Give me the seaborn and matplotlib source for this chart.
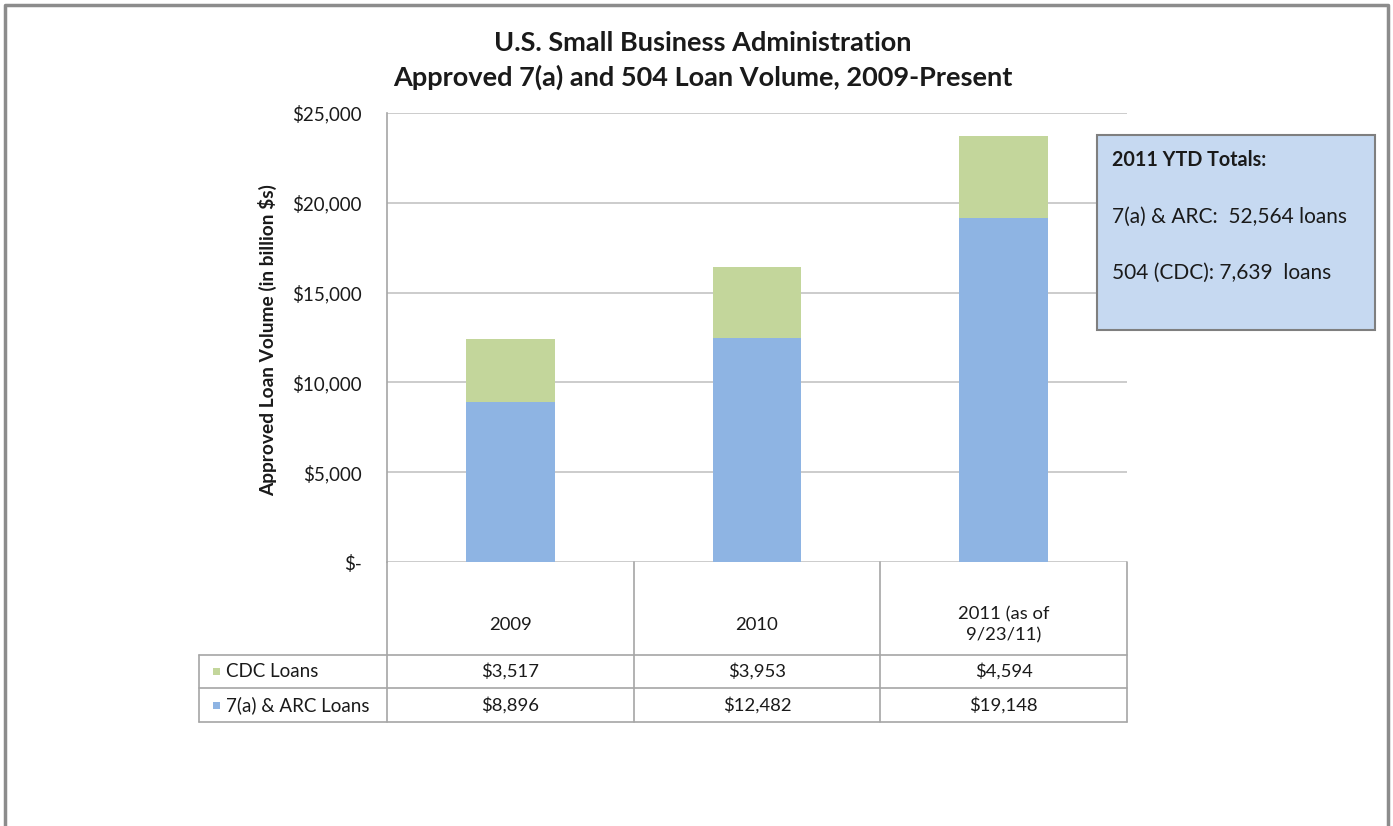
import matplotlib
matplotlib.use("Agg")
import matplotlib.pyplot as plt
import seaborn as sns
import pandas as pd
from matplotlib.transforms import blended_transform_factory
from matplotlib.patches import Rectangle
from matplotlib.lines import Line2D

# ---- data ----
years = ["2009", "2010", "2011 (as of\n9/23/11)"]
cdc_loans = [3517, 3953, 4594]
arc_loans = [8896, 12482, 19148]
series_names = ["CDC Loans", "7(a) & ARC Loans"]
y_ticks = [0, 5000, 10000, 15000, 20000, 25000]
y_tick_labels = ["$-", "$5,000", "$10,000", "$15,000", "$20,000", "$25,000"]
title_lines = ["U.S. Small Business Administration",
               "Approved 7(a) and 504 Loan Volume, 2009-Present"]
y_label = "Approved Loan Volume (in billion $s)"
box_lines = ["2011 YTD Totals:", "7(a) & ARC:  52,564 loans", "504 (CDC): 7,639  loans"]

sns.set_theme(style="white")
plt.rcParams['font.family'] = ['Lato', 'DejaVu Sans']

W, H = 1393, 826
fig = plt.figure(figsize=(W / 100, H / 100), dpi=100)


def fx(px):
    return px / W


def fy(py):
    return 1 - py / H


green = "#c3d69b"
blue = "#8eb4e3"
grid_c = "#c4c4c4"
line_c = "#a6a6a6"
txt_c = "#1a1a1a"

ax = fig.add_axes([fx(387), fy(562), fx(1127) - fx(387), fy(113) - fy(562)])

df = pd.DataFrame({"year": years, "cdc": cdc_loans, "arc": arc_loans})
df["total"] = df["cdc"] + df["arc"]
sns.barplot(data=df, x="year", y="total", color=green, width=0.36,
            saturation=1, linewidth=0, errorbar=None, ax=ax)
sns.barplot(data=df, x="year", y="arc", color=blue, width=0.36,
            saturation=1, linewidth=0, errorbar=None, ax=ax)

ax.set_xlim(-0.5, len(years) - 0.5)
ax.set_ylim(0, 25000)
ax.set_yticks(y_ticks)
ax.set_yticklabels(y_tick_labels)
ax.set_xticks([])
ax.set_xlabel("")
ax.set_ylabel("")
ax.yaxis.grid(True, color=grid_c, lw=1.2)
ax.set_axisbelow(True)
for s in ["top", "right", "bottom"]:
    ax.spines[s].set_visible(False)
ax.spines["left"].set_color(line_c)
ax.spines["left"].set_linewidth(1.2)
ax.tick_params(axis="y", length=0, pad=18, labelsize=13.5, labelcolor=txt_c)
ax.patch.set_alpha(0)

# title
fig.text(0.5045, fy(43), title_lines[0], ha="center", va="center",
         fontsize=19.5, fontweight="bold", color=txt_c)
fig.text(0.5045, fy(77), title_lines[1], ha="center", va="center",
         fontsize=19.5, fontweight="bold", color=txt_c)

# y label
fig.text(fx(268), fy(340), y_label, rotation=90, ha="center", va="center",
         fontsize=13.8, fontweight="bold", color=txt_c)

# ---- data table under the axis ----
bt = blended_transform_factory(ax.transData, fig.transFigure)
n = len(years)
row_top, row1, row2, row_bot = 562, 655, 688, 722
left_px = 199

for i in range(n + 1):
    xb = i - 0.5
    fig.add_artist(Line2D([xb, xb], [fy(row_top), fy(row_bot)], transform=bt,
                          color=line_c, lw=1.2))
fig.add_artist(Line2D([fx(left_px), fx(left_px)], [fy(row1), fy(row_bot)],
                      transform=fig.transFigure, color=line_c, lw=1.2))
for yy in [row1, row2, row_bot]:
    fig.add_artist(Line2D([fx(left_px), fx(1127)], [fy(yy), fy(yy)],
                          transform=fig.transFigure, color=line_c, lw=1.2))

for i, yr in enumerate(years):
    fig.text(0, 0, yr, transform=bt, ha="center", va="center",
             fontsize=13.3, color=txt_c, linespacing=1.4).set_position((i, fy(625)))

rows = [cdc_loans, arc_loans]
row_colors = [green, blue]
row_centers = [(row1 + row2) / 2, (row2 + row_bot) / 2]
for name, vals, col, yc in zip(series_names, rows, row_colors, row_centers):
    fig.add_artist(Rectangle((fx(213), fy(yc) - 3.5 / H), 7 / W, 7 / H,
                             transform=fig.transFigure, facecolor=col,
                             edgecolor="none"))
    fig.text(fx(226), fy(yc), name, ha="left", va="center", fontsize=13.5,
             color=txt_c)
    for i, v in enumerate(vals):
        t = fig.text(0, 0, f"${v:,}", transform=bt, ha="center", va="center",
                     fontsize=13.3, color=txt_c)
        t.set_position((i, fy(yc)))

# ---- text box ----
fig.add_artist(Rectangle((fx(1097), fy(330)), (1375 - 1097) / W, (330 - 135) / H,
                         transform=fig.transFigure, facecolor="#c6d9f1",
                         edgecolor="#7f7f7f", lw=1.5))
fig.text(fx(1112), fy(160), box_lines[0], ha="left", va="center",
         fontsize=14.2, fontweight="bold", color=txt_c)
fig.text(fx(1112), fy(217), box_lines[1], ha="left", va="center",
         fontsize=15, color=txt_c)
fig.text(fx(1112), fy(273), box_lines[2], ha="left", va="center",
         fontsize=15, color=txt_c)

# outer frame
frame_c = "#8c8c8c"
fig.add_artist(Line2D([fx(5), fx(5), fx(1388), fx(1388)],
                      [0, fy(5), fy(5), 0], transform=fig.transFigure,
                      color=frame_c, lw=2.5))

fig.savefig("out.png", dpi=100)
